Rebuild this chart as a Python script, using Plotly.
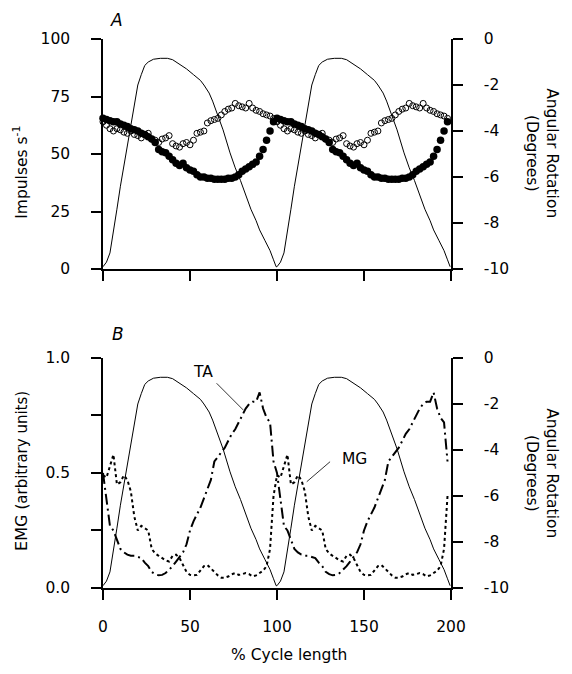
import plotly.graph_objects as go

# ---------------- data (one gait cycle, plotted twice) ----------------
cycle_x = [0, 2, 4, 6, 8, 10, 12, 14, 16, 18, 20, 22, 24, 26, 28, 30, 32, 34, 36, 38,
           40, 42, 44, 46, 48, 50, 52, 54, 56, 58, 60, 62, 64, 66, 68, 70, 72, 74, 76, 78,
           80, 82, 84, 86, 88, 90, 92, 94, 96, 98]

# Panel A: impulses per second
filled_imp = [65.5, 65, 64.5, 64, 64, 63, 62.5, 62, 61, 60.5, 60, 59, 58.5, 57.5, 56.5, 55, 52, 51, 50.5, 49,
              47.5, 46, 45, 46, 44, 43, 42.5, 41, 40, 40, 39.5, 39.5, 39, 39, 39, 39, 39.5, 39.5, 40, 41,
              42.5, 43.5, 44.5, 45.5, 46.5, 49, 52, 56, 60, 64]
open_imp = [64, 62.5, 61, 60, 61, 60.5, 59.5, 59, 60, 58.5, 58, 57, 58.5, 59, 56.5, 56, 55, 56.5, 57, 58,
            54.5, 53.5, 53, 54.5, 55, 54, 56, 59, 59.5, 60, 63.5, 64.5, 65, 65.5, 67, 68.5, 69.5, 70, 72, 71,
            70.5, 70, 72, 70, 69, 68.5, 67.5, 67, 66.5, 65.5]

# Panel B: EMG (arbitrary units)
ta_emg = [0.50, 0.38, 0.27, 0.25, 0.21, 0.17, 0.155, 0.145, 0.14, 0.14, 0.135, 0.13, 0.11, 0.095, 0.07, 0.06,
          0.055, 0.057, 0.065, 0.08, 0.095, 0.115, 0.135, 0.155, 0.19, 0.25, 0.29, 0.32, 0.35, 0.39, 0.43,
          0.47, 0.55, 0.57, 0.59, 0.61, 0.64, 0.67, 0.69, 0.72, 0.75, 0.78, 0.80, 0.81, 0.81, 0.85, 0.78,
          0.74, 0.72, 0.55]
mg_emg = [0.49, 0.48, 0.53, 0.58, 0.45, 0.46, 0.49, 0.47, 0.42, 0.31, 0.25, 0.27, 0.26, 0.25, 0.17, 0.15,
          0.14, 0.13, 0.12, 0.115, 0.14, 0.145, 0.13, 0.10, 0.07, 0.057, 0.055, 0.057, 0.075, 0.095, 0.10,
          0.085, 0.07, 0.055, 0.045, 0.045, 0.05, 0.06, 0.065, 0.057, 0.06, 0.065, 0.06, 0.05, 0.055, 0.064,
          0.075, 0.095, 0.17, 0.40]

# Angular rotation (degrees), one cycle
angle_x = [0, 2, 4, 6, 8, 10, 12, 14, 16, 18, 20, 22, 24, 26, 29, 33, 37, 40, 44, 48, 52, 56, 58,
           61, 63, 65, 67, 69, 73, 76, 79, 82, 85, 88, 90, 93, 96, 98, 99.5]
angle_deg = [-9.9, -9.7, -9.3, -8.4, -7.4, -6.4, -5.5, -4.6, -3.7, -2.8, -2.0, -1.55, -1.15, -1.0, -0.88,
             -0.84, -0.84, -0.9, -1.1, -1.3, -1.55, -1.8, -2.0, -2.35, -2.7, -3.1, -3.5, -3.95, -4.95,
             -5.6, -6.15, -6.8, -7.4, -7.9, -8.3, -8.75, -9.2, -9.6, -9.9]

x_ticks = [0, 50, 100, 150, 200]
imp_ticks = [0, 25, 50, 75, 100]
emg_ticks = [0, 0.5, 1.0]
emg_ticktext = ["0.0", "0.5", "1.0"]
emg_minor_step = 0.25
deg_ticks = [-10, -8, -6, -4, -2, 0]
deg_ticktext = ["-10", "-8", "-6", "-4", "-2", "0"]

n_cycles = 2
def two_cycles(xs):
    return [x + 100 * c for c in range(n_cycles) for x in xs]
def rep(vals):
    return list(vals) * n_cycles

X = two_cycles(cycle_x)
AX = two_cycles(angle_x)

FONT = "DejaVu Sans, Liberation Sans, sans-serif"
FS = 15.5
fig = go.Figure()

# Panel A
fig.add_trace(go.Scatter(x=AX, y=rep(angle_deg), mode="lines", line=dict(color="black", width=1),
                         xaxis="x", yaxis="y2", showlegend=False))
fig.add_trace(go.Scatter(x=X, y=rep(open_imp), mode="markers", cliponaxis=False,
                         marker=dict(symbol="circle-open", size=6, color="black", line=dict(width=1)),
                         xaxis="x", yaxis="y", showlegend=False))
fig.add_trace(go.Scatter(x=X, y=rep(filled_imp), mode="markers", cliponaxis=False,
                         marker=dict(symbol="circle", size=7.5, color="black"),
                         xaxis="x", yaxis="y", showlegend=False))

# Panel B
fig.add_trace(go.Scatter(x=AX, y=rep(angle_deg), mode="lines", line=dict(color="black", width=1),
                         xaxis="x2", yaxis="y4", showlegend=False))
fig.add_trace(go.Scatter(x=X, y=rep(ta_emg), mode="lines", cliponaxis=False,
                         line=dict(color="black", width=2, dash="11px,4px,2px,4px"),
                         xaxis="x2", yaxis="y3", showlegend=False))
fig.add_trace(go.Scatter(x=X, y=rep(mg_emg), mode="lines", cliponaxis=False,
                         line=dict(color="black", width=2, dash="3px,3px"),
                         xaxis="x2", yaxis="y3", showlegend=False))

tick_font = dict(family=FONT, size=FS, color="black")
common = dict(showline=True, linecolor="black", linewidth=1.5, ticks="outside", ticklen=10,
              tickwidth=1.5, tickcolor="black", showgrid=False, zeroline=False, tickfont=tick_font)

domA = [0.581, 1.0]
domB = [0.0, 0.419]

# page body adds an 8px offset, so the figure is drawn 8px smaller
fig.update_layout(
    width=564, height=666,
    margin=dict(l=95, r=121, t=31, b=86),
    paper_bgcolor="white", plot_bgcolor="white",
    font=dict(family=FONT, color="black"),
    xaxis=dict(domain=[0, 1], anchor="y", range=[0, 200], tickvals=x_ticks,
               showticklabels=False, **common),
    yaxis=dict(domain=domA, anchor="x", range=[0, 100], tickvals=imp_ticks,
               ticklabelstandoff=18, **common),
    yaxis2=dict(overlaying="y", anchor="x", side="right", range=[-10, 0], tickvals=deg_ticks,
                ticktext=deg_ticktext, ticklabelstandoff=18, **common),
    xaxis2=dict(domain=[0, 1], anchor="y3", range=[0, 200], tickvals=x_ticks,
                ticklabelstandoff=14, **common),
    yaxis3=dict(domain=domB, anchor="x2", range=[0, 1], tickvals=emg_ticks, ticktext=emg_ticktext,
                ticklabelstandoff=18,
                minor=dict(tick0=0, dtick=emg_minor_step, ticks="outside", ticklen=10,
                           tickwidth=1.5, tickcolor="black", showgrid=False),
                **common),
    yaxis4=dict(overlaying="y3", anchor="x2", side="right", range=[-10, 0], tickvals=deg_ticks,
                ticktext=deg_ticktext, ticklabelstandoff=18, **common),
)

ann_font = dict(family=FONT, size=FS, color="black")
C = dict(xanchor="center", yanchor="middle", showarrow=False)
annotations = [
    dict(text="<i>A</i>", x=0.040, y=1.0550, xref="paper", yref="paper", xanchor="center",
         yanchor="top", showarrow=False, borderpad=0,
         font=dict(family=FONT, size=17, color="black")),
    dict(text="<i>B</i>", x=0.043, y=0.4627, xref="paper", yref="paper",
         font=dict(family=FONT, size=17, color="black"), **C),
    dict(text="Impulses s<sup>-1</sup>", x=-0.236, y=0.758, xref="paper", yref="paper",
         textangle=-90, font=ann_font, **C),
    dict(text="Angular Rotation<br>(Degrees)", x=1.2615, y=0.792, xref="paper", yref="paper",
         textangle=90, font=ann_font, **C),
    dict(text="EMG <span style='font-size:15px'>(arbitrary units)</span>", x=-0.236, y=0.213,
         xref="paper", yref="paper", textangle=-90, font=dict(family=FONT, size=16, color="black"), **C),
    dict(text="Angular Rotation<br>(Degrees)", x=1.2615, y=0.209, xref="paper", yref="paper",
         textangle=90, font=ann_font, **C),
    dict(text="% Cycle length", x=0.534, y=-0.122, xref="paper", yref="paper",
         font=ann_font, **C),
    dict(text="TA", x=57.5, y=0.939, xref="x2", yref="y3", font=ann_font, **C),
    dict(text="MG", x=144.3, y=0.561, xref="x2", yref="y3", font=ann_font, **C),
]
fig.update_layout(annotations=annotations)

fig.add_shape(type="line", xref="x2", yref="y3", x0=65.3, y0=0.89, x1=80.6, y1=0.774,
              line=dict(color="black", width=0.8))
fig.add_shape(type="line", xref="x2", yref="y3", x0=130.5, y0=0.549, x1=117.1, y1=0.462,
              line=dict(color="black", width=0.8))

fig.write_html("out.html")
